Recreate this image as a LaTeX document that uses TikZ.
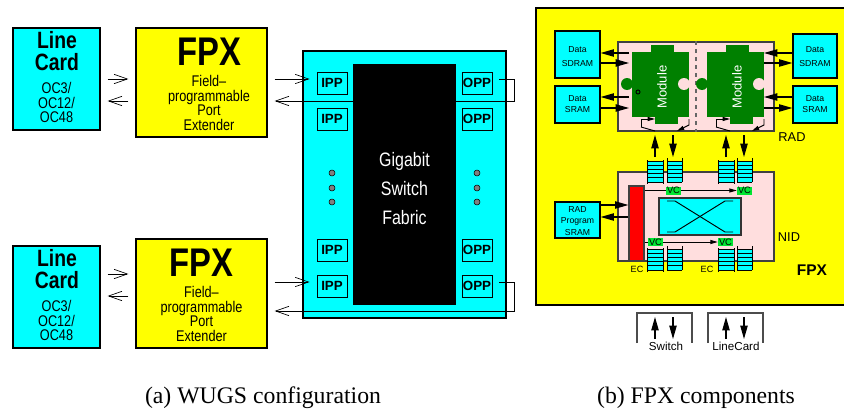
\documentclass[tikz,border=0pt]{standalone}
\usepackage{xcolor}
\usepackage{fontspec}
\setmainfont{Liberation Serif}
\newfontfamily\plainfont{Liberation Sans}
\newfontfamily\condfont[FakeStretch=0.82]{Liberation Sans}
\usetikzlibrary{arrows.meta}
\definecolor{cy}{HTML}{00FFFF}
\definecolor{ye}{HTML}{FFFF00}
\definecolor{pk}{HTML}{FFDEDE}
\definecolor{gr}{HTML}{008000}
\definecolor{vc}{HTML}{00E632}
\definecolor{rd}{HTML}{FF0000}
\newcommand{\px}{0.75pt}
\newcommand{\blk}[7]{\node[#2, minimum width=#5*\px, minimum height=#6*\px] (#1) at (#3,#4) {#7};}
\newcommand{\fnt}[3]{#1\fontsize{#2}{#3}\selectfont}
\tikzset{
	blkbox/.style={draw=black, line width=0.9pt, inner sep=0pt, align=center},
	wire/.style={line width=0.7pt},
	openhead/.style={-{Straight Barb[length=10pt,width=7pt,line width=0.5pt]}},
	barb/.style={wire, openhead, shorten >=7*\px, shorten <=7*\px},
	solid head/.style={line width=0.8pt, -{Triangle[length=10pt,width=5.5pt]}},
	tiny head/.style={line width=0.7pt, -{Triangle[length=5.5pt,width=3pt]}},
	ram/.style={blkbox, fill=cy},
	ramtext/.style={inner sep=0pt, align=center, font=\fnt{\plainfont}{6.5}{10.5}},
	port/.style={blkbox, fill=cy, line width=0.7pt, font=\fnt{\plainfont\bfseries}{10}{12}},
	vcbox/.style={fill=vc, inner sep=0pt, font=\fnt{\plainfont}{7}{8}},
	lab/.style={inner sep=0pt, font=\fnt{\plainfont}{9.6}{11}},
	seven/.style={inner sep=0pt, font=\fnt{\plainfont}{6.8}{8}},
	switchlab/.style={inner sep=0pt, font=\fnt{\plainfont}{8.7}{10}},
	captext/.style={inner sep=0pt, font=\fnt{\rmfamily}{17.8}{20}}
}
\begin{document}
\begin{tikzpicture}[x=0.75pt, y=-0.75pt]
	\useasboundingbox (0,0) rectangle (844,414);
	% (a) left side
	\blk{lineA}{blkbox, fill=cy}{56.5}{79}{87}{102}{}
	\blk{lineB}{blkbox, fill=cy}{56.5}{297}{87}{102}{}
	\blk{fpxA}{blkbox, fill=ye}{201.5}{82.5}{131}{109}{}
	\blk{fpxB}{blkbox, fill=ye}{201.5}{293.5}{131}{109}{}
	\foreach \n/\o/\f/\g in {A/0/0/209, B/218/211/201.5}{
		\node[inner sep=0pt, align=center, font=\fnt{\condfont\bfseries}{17.7}{16.5}] (cardT\n) at (57,{51+\o}) {Line\\Card};
		\node[inner sep=0pt, align=center, font=\fnt{\condfont}{11.6}{11}] (cardS\n) at (56.5,{102.5+\o}) {OC3/\\OC12/\\OC48};
		\node[inner sep=0pt, anchor=base, font=\fnt{\condfont\bfseries}{30}{30}] (fpxT\n) at (\g,{65+\f}) {FPX};
		\node[inner sep=0pt, align=center, font=\fnt{\condfont}{11.6}{10.9}] (fpxS\n) at (\g,{103+\f}) {Field\textendash\\programmable\\Port\\Extender};
	}
	% switch
	\blk{wugs}{blkbox, fill=cy}{404.5}{184.5}{203}{267}{}
	\blk{fabric}{fill=black, inner sep=0pt}{404.5}{184.5}{103}{241}{}
	\node[inner sep=0pt, align=center, text=white, font=\fnt{\condfont}{14.6}{22}] (fabricT) at (404.5,188.5) {Gigabit\\Switch\\Fabric};
	\foreach \n/\y in {A/83, B/119, C/250, D/286}{
		\blk{ipp\n}{port}{332}{\y}{30}{22}{IPP}
		\blk{opp\n}{port}{477}{\y}{30}{22}{OPP}
	}
	\foreach \y in {173,188,202}{
		\fill[gray, draw=black, line width=0.4pt] (332,\y) circle(3);
		\fill[gray, draw=black, line width=0.4pt] (477,\y) circle(3);
	}
	\coordinate (inA) at (0,79);
	\coordinate (outA) at (0,101);
	\coordinate (inB) at (0,282);
	\coordinate (outB) at (0,311);
	\coordinate (linkB) at (0,274);
	\coordinate (backB) at (0,296);
	\coordinate (turn) at (514,0);
	\draw[barb] (lineA.east |- inA) -- (fpxA.west |- inA);
	\draw[barb] (fpxA.west |- outA) -- (lineA.east |- outA);
	\draw[barb] (lineB.east |- linkB) -- (fpxB.west |- linkB);
	\draw[barb] (fpxB.west |- backB) -- (lineB.east |- backB);
	\draw[barb] (fpxA.east |- inA) -- (ippA.west |- inA);
	\draw[barb] (fpxB.east |- inB) -- (ippD.west |- inB);
	\draw[barb, shorten <=0pt] (fabric.west |- outA) -- (fpxA.east |- outA);
	\draw[wire, shorten <=7*\px] (oppA.east |- inA) -- (turn |- inA) -- (turn |- outA) -- (fabric.east |- outA);
	\draw[barb] (oppD.east |- inB) -- (turn |- inB) -- (turn |- outB) -- (fpxB.east |- outB);
	\node[captext] (capA) at (263,398) {(a) WUGS configuration};
	% (b) right side
	\fill[ye] (536,8) rectangle (844,305);
	\draw[line width=0.9pt] (844,8) -- (536,8) -- (536,305) -- (844,305);
	\blk{rad}{blkbox, fill=pk, draw=black!75}{696}{86.5}{156}{89}{}
	\blk{nid}{blkbox, fill=pk, draw=black!75}{696}{216.5}{156}{89}{}
	\draw[dashed, line width=0.9pt, black!60] (rad.north) -- (rad.south);
	\foreach \mx/\mn in {0/modA, 75/modB}{
		\begin{scope}[xshift=\mx*\px]
			\fill[gr] (632,52) rectangle (689,117);
			\fill[gr] (651,45) rectangle (674,53);
			\fill[gr] (655,116) rectangle (678,124);
			\fill[gr] (627,84) circle(6);
			\fill[pk] (684,84) circle(6);
			\node[rotate=90, text=white, inner sep=0pt, font=\fnt{\plainfont}{9.8}{11}] (\mn) at (662,87) {Module};
			\draw[tiny head] (641,127) -- (641,119) -- (655,119);
			\draw[wire] (655,131) -- (641,127);
			\draw[tiny head] (689,119) -- (689,125) -- (677,131);
		\end{scope}
	}
	\draw[line width=0.7pt] (638,92) circle(2);
	\node[lab] (radlab) at (792,137) {RAD};
	\node[lab] (nidlab) at (789,237) {NID};
	\node[inner sep=0pt, font=\fnt{\plainfont\bfseries}{11.6}{13}] (fpxlab) at (812,270) {FPX};
	\blk{sdL}{ram}{577.5}{54.5}{45}{47}{}
	\blk{srL}{ram}{577.5}{104.5}{45}{37}{}
	\blk{sdR}{ram}{815}{56}{44}{44}{}
	\blk{srR}{ram}{815}{104.5}{44}{37}{}
	\blk{prog}{ram}{577.5}{220}{45}{36}{}
	\node[ramtext] (sdLt) at (577.5,57) {Data\\SDRAM};
	\node[ramtext] (sdRt) at (815,57) {Data\\SDRAM};
	\node[ramtext, font=\fnt{\plainfont}{6.5}{8.3}] (srLt) at (577.5,104) {Data\\SRAM};
	\node[ramtext, font=\fnt{\plainfont}{6.5}{8.3}] (srRt) at (815,104) {Data\\SRAM};
	\node[ramtext, font=\fnt{\plainfont}{6.5}{8.3}] (progt) at (577.5,221) {RAD\\Program\\SRAM};
	% memory links
	\coordinate (radW) at (629,0);
	\coordinate (radE) at (764,0);
	\foreach \n/\y in {a/53, b/63, c/97, d/108, e/205, f/217}{
		\coordinate (row\n) at (0,\y);
	}
	\draw[solid head] (radW |- rowa) -- (sdL.east |- rowa);
	\draw[solid head] (sdL.east |- rowb) -- (radW |- rowb);
	\draw[solid head] (radW |- rowc) -- (srL.east |- rowc);
	\draw[solid head] (srL.east |- rowd) -- (radW |- rowd);
	\draw[solid head] (sdR.west |- rowa) -- (radE |- rowa);
	\draw[solid head] (radE |- rowb) -- (sdR.west |- rowb);
	\draw[solid head] (srR.west |- rowc) -- (radE |- rowc);
	\draw[solid head] (radE |- rowd) -- (srR.west |- rowd);
	% queues
	\foreach \x/\w/\y/\o in {647/16/161/0, 667/15/161/1, 718/16/161/0, 737/15/161/1, 647/16/249/0, 667/15/249/1, 718/16/249/0, 737/15/249/1}{
		\fill[cy] (\x,\y) rectangle ({\x+\w},{\y+21});
		\foreach \s in {0,1,...,5}{
			\draw[line width=0.7pt] (\x,{\y+\s*4.2}) -- ({\x+\w},{\y+\s*4.2});
		}
		\draw[line width=0.7pt] (\x,{\y-1-\o*2}) -- (\x,{\y+23-\o*2});
		\draw[line width=0.7pt] ({\x+\w},{\y-1-\o*2}) -- ({\x+\w},{\y+23-\o*2});
	}
	\blk{ec}{blkbox, fill=rd, draw=black!75}{636.5}{223.5}{15}{75}{}
	\blk{cross}{blkbox, fill=cy, draw=black!80}{700}{216.5}{82}{37}{}
	\draw[wire] (667,201) -- (675,201) -- (725,232) -- (733,232);
	\draw[wire] (667,232) -- (675,232) -- (725,201) -- (733,201);
	\blk{vcA}{vcbox}{673.5}{190.5}{15}{8}{VC}
	\blk{vcB}{vcbox}{744.5}{190.5}{15}{8}{VC}
	\blk{vcC}{vcbox}{655.5}{242}{15}{8}{VC}
	\blk{vcD}{vcbox}{725.5}{242}{15}{8}{VC}
	\draw[wire] (ec.east |- vcA) -- (vcA.west);
	\draw[tiny head] (vcA.east) -- (vcB.west);
	\draw[wire] (ec.east |- vcC) -- (vcC.west);
	\draw[tiny head] (vcC.east) -- (vcD.west);
	\draw[solid head] (prog.east |- rowe) -- (ec.west |- rowe);
	\draw[solid head] (ec.west |- rowf) -- (prog.east |- rowf);
	\node[seven] (ecA) at (637,269) {EC};
	\node[seven] (ecB) at (707,269) {EC};
	% links between RAD and NID, and to the outside
	\foreach \x/\n in {0/A, 71/B}{
		\coordinate (upT\n) at ({655+\x},135);
		\coordinate (upB\n) at ({655+\x},157);
		\coordinate (dnT\n) at ({674+\x-1},135);
		\coordinate (dnB\n) at ({674+\x-1},157);
		\draw[solid head] (upB\n) -- (upT\n);
		\draw[solid head] (dnT\n) -- (dnB\n);
		\coordinate (exT\n) at ({655+\x},317);
		\coordinate (exB\n) at ({655+\x},339);
		\coordinate (fxT\n) at ({674+\x-1},317);
		\coordinate (fxB\n) at ({674+\x-1},339);
		\draw[solid head] (exB\n) -- (exT\n);
		\draw[solid head] (fxT\n) -- (fxB\n);
		\draw[line width=0.8pt, black!70] ({637+\x},343) -- ({637+\x},313) -- ({692+\x},313) -- ({692+\x},343);
	}
	\node[switchlab] (swlab) at (666,346) {Switch};
	\node[switchlab] (lclab) at (736,346) {LineCard};
	\node[captext] (capB) at (696,398) {(b) FPX components};
\end{tikzpicture}
\end{document}
